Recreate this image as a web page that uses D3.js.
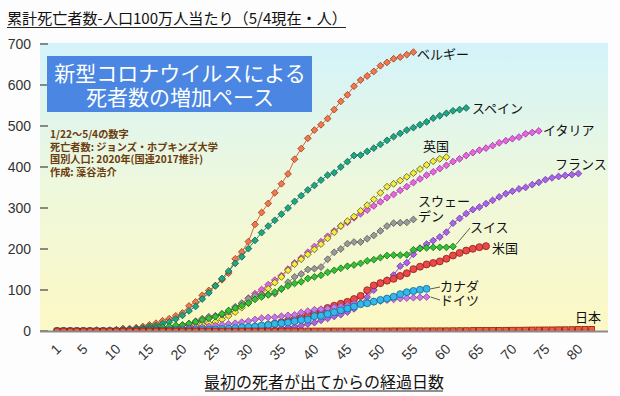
<!DOCTYPE html>
<html><head><meta charset="utf-8">
<script src="https://cdn.jsdelivr.net/npm/d3@7/dist/d3.min.js"></script>
<style>
body{margin:0;background:#fdfdfd;}
svg{display:block;}
</style></head>
<body>
<svg id="c" width="620" height="396"></svg>
<script>
// ---- data: deaths per 1M population, day 1 = first death ----
const belgium = [0,0,0,0,0,0,1,1,2,3,6,6,8,11,15,19,25,30,37,44,61,71,87,99,111,125,141,176,193,218,260,289,311,337,359,383,419,445,470,490,503,518,540,560,576,597,612,622,633,647,655,664,668,674,680];
const spain = [0,0,0,0,0,0,1,1,1,1,3,4,6,7,11,13,18,22,29,38,49,60,78,93,110,128,146,165,181,201,221,240,256,270,285,300,316,330,344,355,368,380,386,400,413,428,429,438,446,455,465,474,482,490,496,503,510,519,525,531,537,540,544];
const italy = [0,0,0,0,0,0,0,0,0,1,1,1,2,2,3,4,6,8,10,14,14,21,24,30,36,41,49,56,67,80,91,101,113,124,135,151,166,178,192,206,218,231,244,256,265,276,286,295,305,315,325,333,343,352,362,371,380,388,396,404,413,420,428,435,441,446,452,459,464,469,473,481,484,488];
const uk = [0,0,0,0,0,0,0,0,0,0,1,1,1,2,3,3,4,5,6,7,9,12,16,19,22,28,37,46,57,68,82,90,103,118,132,148,163,175,187,199,212,226,241,256,268,279,293,307,321,337,352,359,367,376,385,395,405,414,420,424];
const france = [0,0,0,0,0,0,0,0,0,0,0,0,0,0,0,0,0,0,0,0.1,0.1,0.2,0.3,0.3,0.5,0.7,0.7,1.2,1.4,1.4,2.3,2.3,2.3,3.7,6.9,8.6,10.3,13.2,16.9,20.4,26,30.6,35.5,39.9,46.3,54,67.5,82.5,99.7,115.8,123.8,136.5,158.2,166.5,187.1,202.2,211.9,220.5,229.3,241,263,274.6,286.2,296,302.1,310.5,318.6,327,334.9,340.8,346.5,350.2,356.9,362.5,369,373.5,376.8,379.3,381.4,384];
const sweden = [0,0,0,0,0,1,1,1,1,2,2,2,2,4,6,8,10,10,11,14,18,24,30,35,37,40,47,59,68,79,86,88,89,91,102,119,132,139,150,152,156,175,192,200,213,217,217,225,233,244,256,263,264,265,272];
const swiss = [0,0,0,0,0,0,0,0,1,2,2,2,3,3,5,6,9,11,14,14,18,22,27,31,35,42,50,56,62,68,77,83,88,95,103,110,116,120,128,132,136,143,148,153,158,161,165,171,174,179,184,185,185,186,198,201,203,204,204,204,206];
const usa = [0,0,0,0,0,0,0,0,0,0,0,0.1,0.1,0.1,0.2,0.2,0.3,0.3,0.4,0.6,0.7,0.9,1.3,1.7,2.1,2.8,3.7,4.8,6.1,7.5,9,11.7,14.4,17.9,21.4,25.4,29.1,32.6,38.4,44.4,49.8,56.2,61.8,66.5,71.1,78,85.6,99.4,111.1,116.8,122.8,127.2,134.3,140.9,150.9,156.9,162.4,165.8,169.8,176.3,184.2,190.3,196.2,200.5,204.5,207];
const canada = [0,0,0,0,0,0,0,0.1,0.1,0.2,0.2,0.3,0.5,0.6,0.7,0.7,0.8,1,1.4,1.6,1.7,2.1,2.7,2.9,3.7,4.7,5.8,6.9,9,9.9,10.8,13.3,14.8,17.3,18.9,20.7,23.7,26.8,27.8,36,37.1,41.4,45.7,50.6,55,59.6,65.4,67.8,71.7,75.8,79,83.6,89.9,94.5,97.6,100.6,102.8];
const germany = [0,0,0,0,0.1,0.1,0.1,0.2,0.3,0.3,0.5,0.8,1,1.1,1.5,1.9,2.5,3.2,4.1,5.2,6.4,7.7,9.3,11,13.2,15.2,17.2,18.9,21.6,24.1,28,31.1,33,33.5,36.1,38.1,39.3,45.4,48.4,51.9,53.2,54.7,58,60.1,63,66.5,68.7,70.1,71.3,73.1,75.4,77.2,79.1,80.4,81.3,82,83];
const japan = [0,0,0,0,0,0,0,0,0,0,0,0,0,0.02,0.03,0.03,0.04,0.05,0.05,0.05,0.05,0.05,0.05,0.05,0.05,0.08,0.08,0.12,0.13,0.15,0.17,0.17,0.21,0.23,0.23,0.23,0.26,0.28,0.32,0.33,0.34,0.36,0.37,0.39,0.41,0.43,0.43,0.44,0.45,0.49,0.5,0.61,0.61,0.67,0.73,0.74,0.74,0.78,0.78,0.85,0.97,1.13,1.15,1.41,1.47,1.5,1.75,1.87,2.08,2.22,2.27,2.51,2.75,2.85,2.94,3.04,3.28,3.4,3.6,3.85,4.03,4.09];

const xTickDays = [1,5,10,15,20,25,30,35,40,45,50,55,60,65,70,75,80];
const yTicks = [0,100,200,300,400,500,600,700];

const titleText = "累計死亡者数-人口100万人当たり（5/4現在・人）";
const boxLines = ["新型コロナウイルスによる","死者数の増加ペース"];
const noteLines = ["1/22～5/4の数字","死亡者数: ジョンズ・ホプキンズ大学","国別人口: 2020年(国連2017推計)","作成: 藻谷浩介"];
const xTitle = "最初の死者が出てからの経過日数";

const series = [
  {name:"ベルギー", data:belgium, fill:"#f07a50", stroke:"#9a3a1a", line:"#e0603a", shape:"diamond"},
  {name:"スペイン", data:spain, fill:"#20a585", stroke:"#0d5a48", line:"#1a8a70", shape:"diamond"},
  {name:"イタリア", data:italy, fill:"#e466e0", stroke:"#9a3098", line:"#c850c8", shape:"diamond"},
  {name:"英国", data:uk, fill:"#f2ee40", stroke:"#5a5418", line:"#a8a030", shape:"diamond"},
  {name:"フランス", data:france, fill:"#a866e6", stroke:"#6a30a8", line:"#9050d0", shape:"diamond"},
  {name:"スウェーデン", data:sweden, fill:"#9a9a9a", stroke:"#555555", line:"#808080", shape:"diamond"},
  {name:"スイス", data:swiss, fill:"#36c036", stroke:"#106a10", line:"#22a022", shape:"diamond"},
  {name:"米国", data:usa, fill:"#ec4848", stroke:"#8a1e1e", line:"#d03030", shape:"circle"},
  {name:"ドイツ", data:germany, fill:"#c878e8", stroke:"#8040a8", line:"#b060d8", shape:"diamond"},
  {name:"カナダ", data:canada, fill:"#34b8ea", stroke:"#106a98", line:"#2aa0d8", shape:"circle"},
  {name:"日本", data:japan, fill:"#f25a3a", stroke:"#8a1a10", line:"#e04020", shape:"square"}
];

const svg = d3.select("#c");
const x = d3.scaleLinear().domain([1,82]).range([57, 591.6]);
const y = d3.scaleLinear().domain([0,700]).range([331, 44]);
const plotL = 40, plotR = 608, plotT = 43, plotB = 331;

// background gradient
const defs = svg.append("defs");
const g = defs.append("linearGradient").attr("id","bg").attr("x1",0).attr("y1",0).attr("x2",0).attr("y2",1);
g.append("stop").attr("offset","0%").attr("stop-color","#d3f3fa");
g.append("stop").attr("offset","50%").attr("stop-color","#eef8dc");
g.append("stop").attr("offset","100%").attr("stop-color","#fdf8c4");
defs.append("clipPath").attr("id","clip").append("rect")
  .attr("x",plotL).attr("y",plotT-10).attr("width",plotR-plotL+10).attr("height",plotB-plotT+10);

svg.append("rect").attr("x",plotL).attr("y",plotT).attr("width",plotR-plotL).attr("height",plotB-plotT).attr("fill","url(#bg)");

// y ticks & labels
yTicks.forEach(v=>{
  svg.append("line").attr("x1",plotL).attr("x2",plotL+8).attr("y1",y(v)).attr("y2",y(v)).attr("stroke","#444").attr("stroke-width",1.2);
  svg.append("text").attr("x",31).attr("y",y(v)+5).attr("text-anchor","end")
    .attr("font-family","Liberation Sans, Arial, sans-serif").attr("font-size",14).attr("fill","#333").text(v);
});

// title
svg.append("text").attr("x",7).attr("y",24).attr("font-family","Noto Sans CJK JP").attr("font-size",15.1)
  .attr("fill","#111").text(titleText);
svg.append("line").attr("x1",7).attr("x2",346).attr("y1",27.5).attr("y2",27.5).attr("stroke","#222").attr("stroke-width",1);

// series
const plot = svg.append("g").attr("clip-path","url(#clip)");
const line = d3.line().x((d,i)=>x(i+1)).y(d=>y(d));
series.forEach(s=>{
  const gg = plot.append("g");
  gg.append("path").attr("d",line(s.data)).attr("fill","none").attr("stroke",s.line).attr("stroke-width",1);
  s.data.forEach((v,i)=>{
    const cx = x(i+1), cy = y(v);
    if(s.shape==="diamond"){
      const r=3.4;
      gg.append("path").attr("d",`M${cx},${cy-r}L${cx+r},${cy}L${cx},${cy+r}L${cx-r},${cy}Z`)
        .attr("fill",s.fill).attr("stroke",s.stroke).attr("stroke-width",0.8);
    } else if(s.shape==="circle"){
      gg.append("circle").attr("cx",cx).attr("cy",cy).attr("r",3.5)
        .attr("fill",s.fill).attr("stroke",s.stroke).attr("stroke-width",0.8);
    } else {
      gg.append("rect").attr("x",cx-2.8).attr("y",cy-2.8).attr("width",5.6).attr("height",5.6)
        .attr("fill",s.fill).attr("stroke",s.stroke).attr("stroke-width",0.8);
    }
  });
});

// x axis line
svg.append("line").attr("x1",plotL).attr("x2",plotR).attr("y1",plotB+0.5).attr("y2",plotB+0.5).attr("stroke","#8a8a8a").attr("stroke-width",2);

// x tick labels
xTickDays.forEach(d=>{
  svg.append("text").attr("transform",`translate(${x(d)+5},${350}) rotate(-45)`).attr("text-anchor","end")
    .attr("font-family","Liberation Sans, Arial, sans-serif").attr("font-size",14).attr("fill","#333").text(d);
});

// x title
svg.append("text").attr("x",324).attr("y",388).attr("text-anchor","middle").attr("font-family","Noto Sans CJK JP")
  .attr("font-size",16).attr("fill","#111").text(xTitle);
svg.append("line").attr("x1",205).attr("x2",443).attr("y1",391).attr("y2",391).attr("stroke","#222").attr("stroke-width",1);

// blue box
svg.append("rect").attr("x",47).attr("y",56).attr("width",265).attr("height",56).attr("fill","#4a86e2");
const bt = svg.append("text").attr("text-anchor","middle").attr("font-family","Noto Sans CJK JP")
  .attr("font-size",21).attr("fill","#fff");
boxLines.forEach((t,i)=>{
  bt.append("tspan").attr("x",180).attr("y",81+i*23.5).text(t);
});

// notes
const nt = svg.append("text").attr("font-family","Noto Sans CJK JP").attr("font-weight","bold")
  .attr("font-size",10.2).attr("fill","#6b3b0c");
noteLines.forEach((t,i)=>{
  nt.append("tspan").attr("x",50).attr("y",138+i*12.6).text(t);
});

// series labels
const lab = (t,xx,yy)=>svg.append("text").attr("x",xx).attr("y",yy).attr("font-family","Noto Sans CJK JP")
  .attr("font-size",13).attr("fill","#111").text(t);
lab("ベルギー",417,59);
lab("スペイン",472,113);
lab("イタリア",543,135);
lab("英国",423,151);
lab("フランス",555,169);
const sw = svg.append("text").attr("font-family","Noto Sans CJK JP").attr("font-size",13).attr("fill","#111");
sw.append("tspan").attr("x",418).attr("y",206).text("スウェー");
sw.append("tspan").attr("x",418).attr("y",221).text("デン");
lab("スイス",470,232);
lab("米国",492,253);
lab("カナダ",440,291);
lab("ドイツ",440,305);
lab("日本",575,322);
const leader=(x1,y1,x2,y2)=>svg.append("line").attr("x1",x1).attr("y1",y1).attr("x2",x2).attr("y2",y2).attr("stroke","#333").attr("stroke-width",0.8);
leader(x(61)+3,y(206)-2,470,228);
leader(x(57)+4,y(102.8),440,287);
leader(x(57)+4,y(83),440,300);
</script>
</body></html>
